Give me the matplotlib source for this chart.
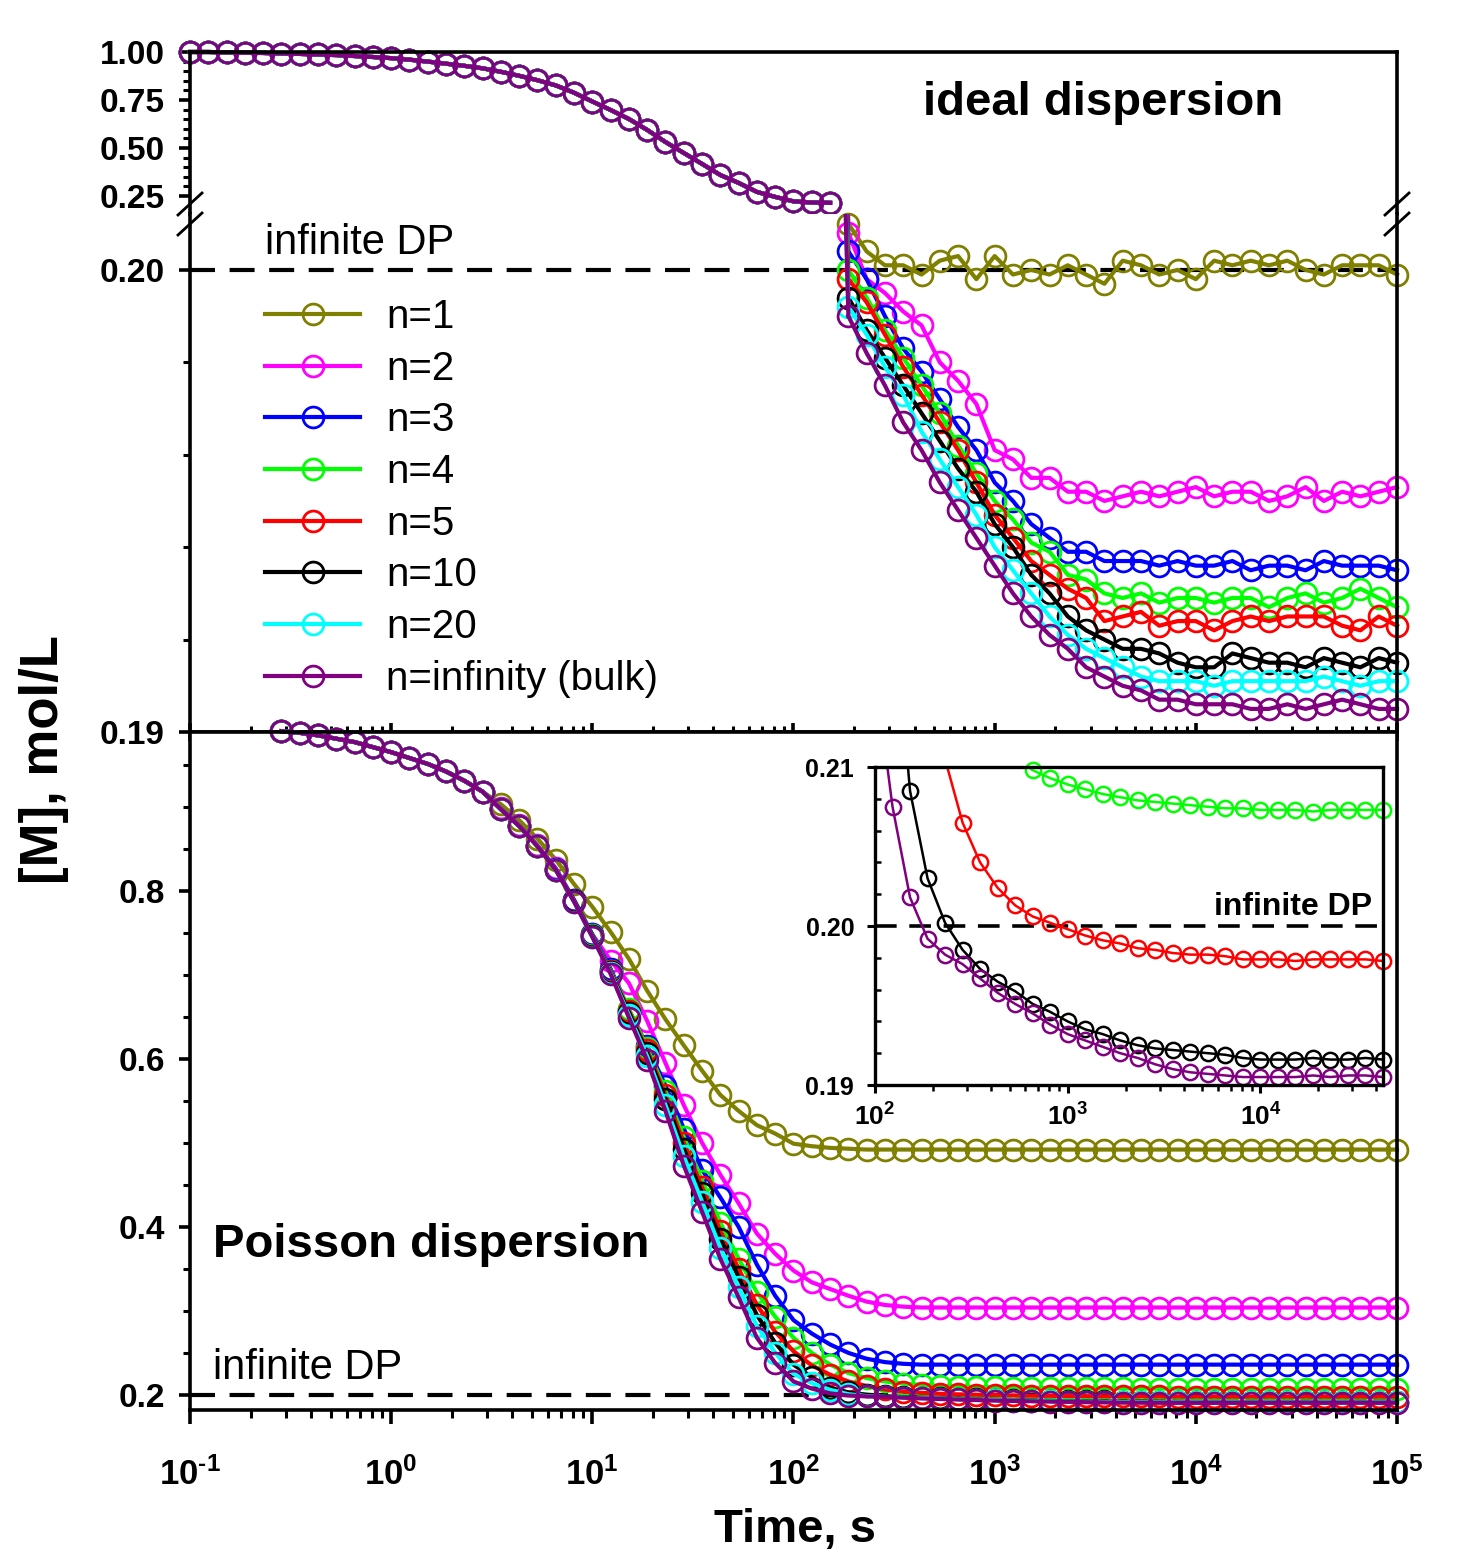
import matplotlib
matplotlib.use("Agg")
import numpy as np
import matplotlib.pyplot as plt
from matplotlib.ticker import LogLocator, NullFormatter
from matplotlib.lines import Line2D

plt.rcParams['font.family'] = ['Liberation Sans', 'DejaVu Sans']
plt.rcParams['mathtext.fontset'] = 'custom'
plt.rcParams['mathtext.rm'] = 'Liberation Sans'
plt.rcParams['mathtext.bf'] = 'Liberation Sans:bold'

# temps (s) : 11 points par décade + le point final
mantissa = [1.0, 1.233, 1.520, 1.874, 2.310, 2.848, 3.511, 4.329, 5.337, 6.579, 8.111]
decades = [-1, 0, 1, 2, 3, 4]
time_s = [m * 10.0 ** d for d in decades for m in mantissa] + [1e5]

labels = ["n=1", "n=2", "n=3", "n=4", "n=5", "n=10", "n=20", "n=infinity (bulk)"]
colors = ["#808000", "#FF00FF", "#0000FF", "#00FF00", "#FF0000", "#000000", "#00FFFF", "#800080"]

# ---- ideal dispersion ----
# partie commune (indices 0..35)
ideal_common = [1.000, 1.000, 0.998, 0.996, 0.995, 0.992, 0.990, 0.987, 0.984, 0.979,
                0.974, 0.968, 0.960, 0.950, 0.939, 0.928, 0.915, 0.897, 0.876, 0.853,
                0.826, 0.788, 0.742, 0.698, 0.651, 0.594, 0.531, 0.474, 0.417, 0.359,
                0.318, 0.271, 0.245, 0.222, 0.216, 0.214]
# fin de courbe (indices 36..66)
ideal_n1 = [0.2010, 0.2004, 0.2001, 0.2001, 0.1999, 0.2002, 0.2003, 0.1998, 0.2003, 0.1999,
            0.2000, 0.1999, 0.2001, 0.1999, 0.1997, 0.2002, 0.2001, 0.1999, 0.2000, 0.1998,
            0.2002, 0.2001, 0.2002, 0.2001, 0.2002, 0.2000, 0.1999, 0.2001, 0.2001, 0.2001, 0.1999]
ideal_n2 = [0.2008, 0.1998, 0.1995, 0.1991, 0.1988, 0.1980, 0.1976, 0.1971, 0.1961, 0.1959,
            0.1955, 0.1955, 0.1952, 0.1952, 0.1950, 0.1951, 0.1952, 0.1951, 0.1952, 0.1953,
            0.1951, 0.1952, 0.1952, 0.1950, 0.1951, 0.1953, 0.1950, 0.1952, 0.1951, 0.1952, 0.1953]
ideal_n3 = [0.2004, 0.1998, 0.1990, 0.1983, 0.1978, 0.1972, 0.1966, 0.1961, 0.1954, 0.1950,
            0.1945, 0.1942, 0.1939, 0.1939, 0.1937, 0.1937, 0.1937, 0.1936, 0.1937, 0.1936,
            0.1936, 0.1937, 0.1935, 0.1936, 0.1936, 0.1935, 0.1937, 0.1936, 0.1936, 0.1936, 0.1935]
ideal_n4 = [0.2000, 0.1994, 0.1987, 0.1981, 0.1975, 0.1969, 0.1962, 0.1956, 0.1950, 0.1946,
            0.1941, 0.1939, 0.1934, 0.1933, 0.1930, 0.1929, 0.1930, 0.1928, 0.1929, 0.1929,
            0.1928, 0.1929, 0.1929, 0.1927, 0.1929, 0.1930, 0.1928, 0.1929, 0.1931, 0.1929, 0.1927]
ideal_n5 = [0.1998, 0.1993, 0.1986, 0.1979, 0.1973, 0.1967, 0.1961, 0.1954, 0.1947, 0.1942,
            0.1937, 0.1934, 0.1931, 0.1929, 0.1924, 0.1925, 0.1926, 0.1923, 0.1924, 0.1924,
            0.1922, 0.1924, 0.1925, 0.1924, 0.1925, 0.1925, 0.1925, 0.1923, 0.1922, 0.1925, 0.1923]
ideal_n10 = [0.1994, 0.1987, 0.1981, 0.1975, 0.1969, 0.1963, 0.1957, 0.1952, 0.1945, 0.1940,
             0.1934, 0.1930, 0.1925, 0.1922, 0.1920, 0.1918, 0.1918, 0.1917, 0.1915, 0.1914,
             0.1914, 0.1917, 0.1916, 0.1915, 0.1915, 0.1914, 0.1916, 0.1915, 0.1914, 0.1916, 0.1915]
ideal_n20 = [0.1992, 0.1986, 0.1979, 0.1973, 0.1965, 0.1959, 0.1953, 0.1947, 0.1940, 0.1935,
             0.1930, 0.1925, 0.1921, 0.1918, 0.1916, 0.1914, 0.1912, 0.1911, 0.1911, 0.1911,
             0.1910, 0.1911, 0.1911, 0.1911, 0.1911, 0.1911, 0.1912, 0.1911, 0.1910, 0.1911, 0.1911]
ideal_bulk = [0.1990, 0.1982, 0.1975, 0.1967, 0.1961, 0.1954, 0.1948, 0.1942, 0.1936, 0.1930,
              0.1925, 0.1921, 0.1918, 0.1914, 0.1912, 0.1910, 0.1909, 0.1907, 0.1907, 0.1906,
              0.1906, 0.1906, 0.1905, 0.1905, 0.1906, 0.1905, 0.1906, 0.1907, 0.1906, 0.1905, 0.1905]
ideal_tails = [ideal_n1, ideal_n2, ideal_n3, ideal_n4, ideal_n5, ideal_n10, ideal_n20, ideal_bulk]

# ---- Poisson dispersion ----
# partie commune (indices 5..16)
poisson_common = [0.990, 0.988, 0.985, 0.981, 0.977, 0.971, 0.965, 0.958, 0.951, 0.942, 0.931, 0.918]
# suite (indices 17..66)
poisson_n1 = [0.903, 0.884, 0.862, 0.837,
              0.808, 0.781, 0.751, 0.719, 0.681, 0.647, 0.616, 0.586, 0.557, 0.538, 0.521, 0.511,
              0.499, 0.496, 0.494, 0.493, 0.492, 0.492, 0.492, 0.492, 0.492, 0.492, 0.492, 0.492,
              0.492, 0.492, 0.492, 0.492, 0.492, 0.492, 0.492, 0.492, 0.492, 0.492, 0.492, 0.492,
              0.492, 0.492, 0.492, 0.492, 0.492, 0.492, 0.492, 0.492, 0.492, 0.492]
poisson_n2 = [0.898, 0.878, 0.854, 0.827,
              0.789, 0.748, 0.717, 0.690, 0.645, 0.595, 0.545, 0.500, 0.462, 0.428, 0.392, 0.368,
              0.348, 0.334, 0.326, 0.318, 0.311, 0.307, 0.305, 0.304, 0.304, 0.304, 0.304, 0.304,
              0.304, 0.304, 0.304, 0.304, 0.304, 0.304, 0.304, 0.304, 0.304, 0.304, 0.304, 0.304,
              0.304, 0.304, 0.304, 0.304, 0.304, 0.304, 0.304, 0.304, 0.304, 0.304]
poisson_n3 = [0.897, 0.877, 0.853, 0.826,
              0.789, 0.748, 0.707, 0.658, 0.615, 0.568, 0.517, 0.468, 0.435, 0.400, 0.355, 0.318,
              0.289, 0.273, 0.260, 0.250, 0.243, 0.239, 0.237, 0.236, 0.236, 0.236, 0.236, 0.236,
              0.236, 0.236, 0.236, 0.236, 0.236, 0.236, 0.236, 0.236, 0.236, 0.236, 0.236, 0.236,
              0.236, 0.236, 0.236, 0.236, 0.236, 0.236, 0.236, 0.236, 0.236, 0.236]
poisson_n4 = [0.897, 0.877, 0.853, 0.825,
              0.788, 0.747, 0.705, 0.659, 0.613, 0.562, 0.507, 0.455, 0.405, 0.362, 0.322, 0.293,
              0.268, 0.250, 0.236, 0.226, 0.220, 0.216, 0.2135, 0.2118, 0.2106, 0.2098, 0.2093, 0.2089,
              0.2086, 0.2083, 0.2081, 0.2079, 0.2078, 0.2077, 0.2076, 0.2075, 0.2074, 0.2074, 0.2073, 0.2073,
              0.2073, 0.2072, 0.2073, 0.2073, 0.2073, 0.2073, 0.2073, 0.2073, 0.2073, 0.2073]
poisson_n5 = [0.897, 0.877, 0.853, 0.825,
              0.788, 0.746, 0.704, 0.657, 0.610, 0.557, 0.500, 0.447, 0.395, 0.350, 0.307, 0.275,
              0.252, 0.235, 0.224, 0.216, 0.2105, 0.2065, 0.2040, 0.2024, 0.2013, 0.2006, 0.2002, 0.1998,
              0.1994, 0.1991, 0.1989, 0.1986, 0.1985, 0.1983, 0.1982, 0.1982, 0.1981, 0.1979, 0.1979, 0.1979,
              0.1978, 0.1979, 0.1979, 0.1979, 0.1979, 0.1978, 0.1979, 0.1979, 0.1979, 0.1979]
poisson_n10 = [0.897, 0.877, 0.853, 0.825,
               0.788, 0.746, 0.703, 0.655, 0.607, 0.552, 0.493, 0.440, 0.386, 0.340, 0.295, 0.262,
               0.236, 0.221, 0.2085, 0.2030, 0.2002, 0.1985, 0.1973, 0.1965, 0.1959, 0.1951, 0.1946, 0.1940,
               0.1935, 0.1932, 0.1928, 0.1925, 0.1923, 0.1922, 0.1921, 0.1920, 0.1919, 0.1917, 0.1916, 0.1916,
               0.1916, 0.1917, 0.1916, 0.1916, 0.1917, 0.1916, 0.1916, 0.1917, 0.1917, 0.1917]
poisson_n20 = [0.897, 0.877, 0.853, 0.825,
               0.787, 0.745, 0.702, 0.652, 0.603, 0.545, 0.484, 0.430, 0.375, 0.328, 0.282, 0.250,
               0.225, 0.214, 0.206, 0.2008, 0.1986, 0.1977, 0.1968, 0.1961, 0.1955, 0.1948, 0.1942, 0.1937,
               0.1932, 0.1928, 0.1924, 0.1921, 0.1918, 0.1916, 0.1914, 0.1913, 0.1912, 0.1911, 0.1911, 0.1910,
               0.1911, 0.1910, 0.1911, 0.1911, 0.1910, 0.1911, 0.1911, 0.1910, 0.1911, 0.1911]
poisson_bulk = [0.897, 0.877, 0.853, 0.825,
                0.787, 0.745, 0.701, 0.649, 0.598, 0.538, 0.473, 0.418, 0.362, 0.316, 0.268, 0.238,
                0.216, 0.2075, 0.2018, 0.1992, 0.1982, 0.1976, 0.1967, 0.1958, 0.1951, 0.1945, 0.1938, 0.1932,
                0.1928, 0.1924, 0.1920, 0.1917, 0.1913, 0.1910, 0.1908, 0.1907, 0.1906, 0.1905, 0.1905, 0.1905,
                0.1905, 0.1906, 0.1905, 0.1906, 0.1906, 0.1905, 0.1906, 0.1906, 0.1905, 0.1906]
poisson_tails = [poisson_n1, poisson_n2, poisson_n3, poisson_n4, poisson_n5,
                 poisson_n10, poisson_n20, poisson_bulk]
inset_series = [3, 4, 5, 7]   # n=4, n=5, n=10, bulk

W, H = 1463, 1557
fig = plt.figure(figsize=(W / 100, H / 100), dpi=100)


def box(x0, y0, x1, y1):
    return [x0 / W, 1 - y1 / H, (x1 - x0) / W, (y1 - y0) / H]


def px(x, y):
    return x / W, 1 - y / H


def pow_label(k):
    # exposant avec un tiret court comme sur l'original
    e = str(k).replace("-", "\u2010")
    return r"$\mathbf{10^{%s}}$" % e


LW_AX = 2.6
DASH = (0, (6, 3.5))
ax_hi = fig.add_axes(box(190, 52, 1397, 214))
ax_lo = fig.add_axes(box(190, 214, 1397, 732))
ax_p = fig.add_axes(box(190, 732, 1397, 1410))
ax_in = fig.add_axes(box(875, 767, 1383, 1085))

for ax in [ax_hi, ax_lo, ax_p]:
    ax.set_xscale("log")
    ax.set_xlim(0.1, 1e5)
    for s in ax.spines.values():
        s.set_linewidth(LW_AX)
ax_hi.spines["bottom"].set_visible(False)
ax_lo.spines["top"].set_visible(False)

line_kw = dict(lw=3.0, marker="o", ms=15, mfc="none", mew=2.0)

# ---- top: ideal ----
for c in range(8):
    ax_hi.plot(time_s[:36], ideal_common, color=colors[c], clip_on=False, **line_kw)
    full = ideal_common + ideal_tails[c]
    ax_lo.plot(time_s[35:37], full[35:37], color=colors[c], lw=3.0)
    ax_lo.plot(time_s[36:], ideal_tails[c], color=colors[c], clip_on=False,
               label=labels[c], **line_kw)

ax_hi.set_ylim(0.156, 1.0)
ax_hi.set_yticks([0.25, 0.50, 0.75, 1.00], ["0.25", "0.50", "0.75", "1.00"],
                 fontsize=24, fontweight="bold")
ax_hi.set_yticks(np.arange(0.25, 1.001, 0.05), minor=True)
ax_hi.tick_params(axis="x", which="both", bottom=False, top=False, labelbottom=False)

ax_lo.set_ylim(0.19, 0.20121)
ax_lo.set_yticks([0.19, 0.20], ["0.19", "0.20"], fontsize=24, fontweight="bold")
ax_lo.set_yticks([0.192, 0.194, 0.196, 0.198], minor=True)
ax_lo.axhline(0.20, color="black", lw=3.0, ls=DASH, zorder=1)
ax_lo.tick_params(axis="x", which="major", direction="inout", length=13, width=LW_AX,
                  labelbottom=False)
ax_lo.tick_params(axis="x", which="minor", direction="inout", length=9, width=2.2)

# ---- bottom: Poisson ----
for c in range(8):
    ax_p.plot(time_s[5:], poisson_common + poisson_tails[c], color=colors[c],
              clip_on=False, **line_kw)
ax_p.axhline(0.20, color="black", lw=3.0, ls=DASH, zorder=1)
ax_p.set_ylim(0.182, 0.989)
ax_p.set_yticks([0.2, 0.4, 0.6, 0.8], ["0.2", "0.4", "0.6", "0.8"],
                fontsize=24, fontweight="bold")
ax_p.set_yticks(np.arange(0.25, 0.99, 0.05), minor=True)
ax_p.set_xticks([10.0 ** k for k in range(-1, 6)],
                [pow_label(k) for k in range(-1, 6)], fontsize=25)
ax_p.tick_params(axis="x", which="major", direction="out", length=10, width=LW_AX, pad=24)
ax_p.tick_params(axis="x", which="minor", direction="out", length=6, width=2.2)

for ax in [ax_lo, ax_p]:
    ax.xaxis.set_minor_locator(LogLocator(base=10, subs=np.arange(2, 10), numticks=20))
    ax.xaxis.set_minor_formatter(NullFormatter())
for ax in [ax_hi, ax_lo, ax_p]:
    ax.tick_params(axis="y", which="major", direction="out", length=8, width=LW_AX, pad=10)
    ax.tick_params(axis="y", which="minor", direction="out", length=5, width=2.2)
    ax.tick_params(axis="y", right=False, which="both")

# ---- inset ----
ax_in.set_xscale("log")
ax_in.set_xlim(100, 4.33e4)
ax_in.set_ylim(0.19, 0.21)
for s in ax_in.spines.values():
    s.set_linewidth(2.4)
for c in inset_series:
    yv = poisson_common + poisson_tails[c]
    tv = time_s[5:]
    ax_in.plot(tv, yv, color=colors[c], lw=1.8)
    keep = [(t, v) for t, v in zip(tv, yv) if 100 <= t <= 4.33e4 and 0.19 <= v <= 0.21]
    ax_in.plot([k[0] for k in keep], [k[1] for k in keep], ls="none", marker="o", ms=11,
               mfc="none", mew=1.8, color=colors[c], clip_on=False)
ax_in.axhline(0.20, color="black", lw=2.6, ls=DASH, zorder=1)
ax_in.set_yticks([0.19, 0.20, 0.21], ["0.19", "0.20", "0.21"], fontsize=18, fontweight="bold")
ax_in.set_yticks([0.192, 0.194, 0.196, 0.198, 0.202, 0.204, 0.206, 0.208], minor=True)
ax_in.set_xticks([1e2, 1e3, 1e4], [pow_label(2), pow_label(3), pow_label(4)], fontsize=19)
ax_in.xaxis.set_minor_locator(LogLocator(base=10, subs=np.arange(2, 10), numticks=20))
ax_in.xaxis.set_minor_formatter(NullFormatter())
ax_in.tick_params(which="major", direction="out", length=6, width=2.2, pad=7)
ax_in.tick_params(which="minor", length=4, width=1.8)
ax_in.tick_params(axis="y", which="minor", direction="in")
ax_in.tick_params(axis="y", which="major", pad=9)

# ---- légende ----
ax_lo.legend(loc="upper left", bbox_to_anchor=px(265, 298), bbox_transform=fig.transFigure,
             frameon=False, fontsize=29, handlelength=2.36, handletextpad=0.65,
             labelspacing=0.34, borderpad=0, borderaxespad=0)

# ---- textes ----
fig.text(*px(923, 103), "ideal dispersion", fontsize=34, fontweight="bold", va="center")
fig.text(*px(265, 243), "infinite DP", fontsize=30, va="center")
fig.text(*px(213, 1245), "Poisson dispersion", fontsize=34, fontweight="bold", va="center")
fig.text(*px(213, 1368), "infinite DP", fontsize=30, va="center")
fig.text(*px(1372, 907), "infinite DP", fontsize=23, fontweight="bold", va="center", ha="right")
fig.text(*px(44, 760), "[M], mol/L", fontsize=38, fontweight="bold", va="center", ha="center",
         rotation=90)
fig.text(*px(795, 1530), "Time, s", fontsize=34, fontweight="bold", va="center", ha="center")

# ---- marques de coupure ----
for xc in [190, 1397]:
    for yc in [204, 224]:
        (x0, y0), (x1, y1) = px(xc - 12, yc + 11), px(xc + 12, yc - 11)
        fig.add_artist(Line2D([x0, x1], [y0, y1], color="black", lw=2.0,
                              transform=fig.transFigure))

fig.savefig("out.png", dpi=100)
